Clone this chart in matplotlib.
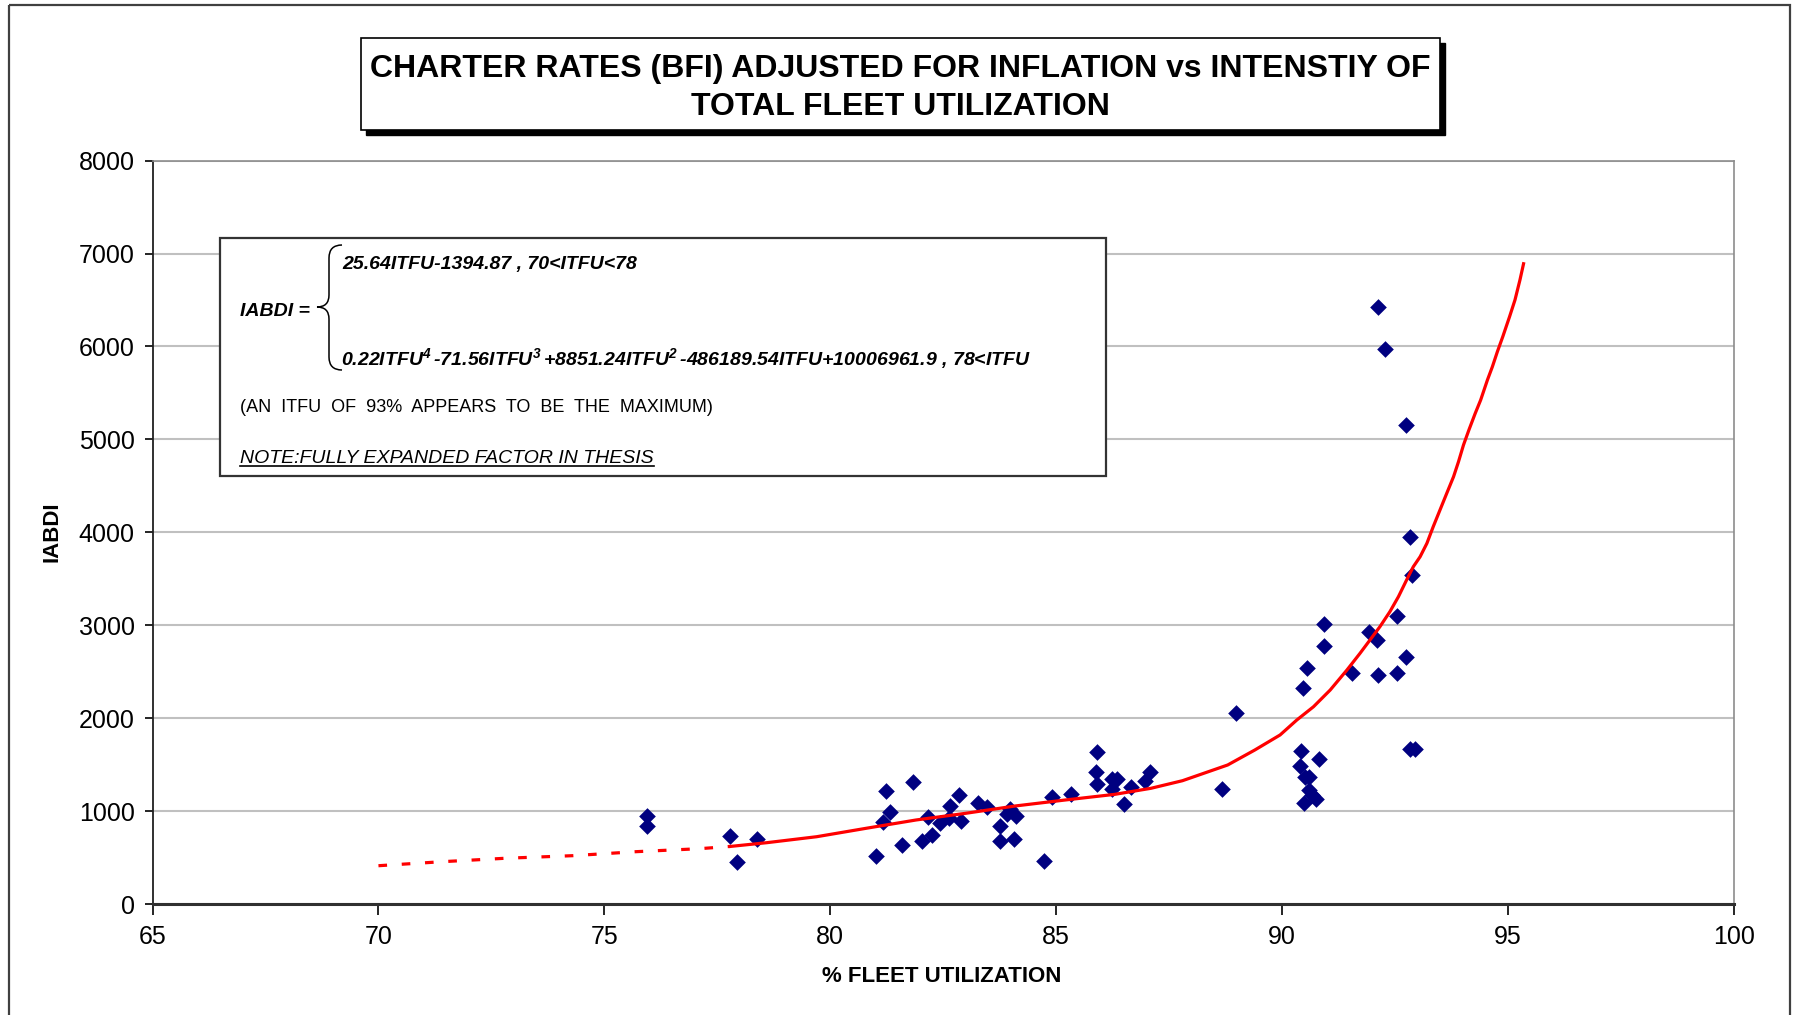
import matplotlib
matplotlib.use("Agg")
import matplotlib.pyplot as plt
from matplotlib.patches import Rectangle, PathPatch
from matplotlib.path import Path

plt.rcParams['font.family'] = ['Liberation Sans', 'DejaVu Sans']
plt.rcParams['mathtext.fontset'] = 'custom'
plt.rcParams['mathtext.it'] = 'Liberation Sans:italic:bold'
plt.rcParams['mathtext.rm'] = 'Liberation Sans:italic:bold'
plt.rcParams['mathtext.bf'] = 'Liberation Sans:italic:bold'

# observed points (% fleet utilization vs inflation adjusted BDI)
itfu = [75.95, 75.95, 77.79, 77.94, 78.37,
        81.01, 81.24, 81.32, 81.16, 81.83, 81.60, 82.03, 82.16, 82.26, 82.43, 82.65, 82.86, 82.90, 82.64,
        83.27, 83.47, 83.76, 83.76, 83.98, 84.11, 84.06, 83.92,
        84.74, 84.90, 85.33,
        85.91, 85.89, 85.91, 86.23, 86.36, 86.23, 86.51, 86.66, 86.97, 87.07,
        88.67, 88.98,
        90.42, 90.39, 90.83, 90.51, 90.59, 90.59, 90.66, 90.49, 90.76,
        90.47, 90.55, 90.94, 90.94, 91.55, 91.93, 92.10, 92.12, 92.54, 92.54, 92.75,
        92.84, 92.95, 92.88, 92.84, 92.74, 92.28, 92.12]
iabdi = [947, 839, 732, 455, 699,
         513, 1219, 987, 879, 1309, 638, 678, 933, 746, 875, 1058, 1170, 890, 922,
         1083, 1047, 839, 678, 1022, 947, 696, 968,
         463, 1155, 1184,
         1632, 1417, 1288, 1342, 1349, 1237, 1076, 1262, 1324, 1424,
         1237, 2052,
         1646, 1488, 1560, 1363, 1363, 1227, 1173, 1090, 1126,
         2321, 2536, 3010, 2776, 2482, 2924, 2841, 2464, 3099, 2482, 2661,
         1668, 1668, 3545, 3945, 5160, 5975, 6420]

# fitted curve
linear_x = [70.0, 71.4, 72.8, 74.3, 75.7, 77.1, 77.8]
linear_y = [412, 455, 492, 520, 563, 595, 620]
poly_x = [77.8, 78.6, 79.7, 80.8, 81.9, 83.0, 84.1, 85.2, 86.3, 87.1, 87.8, 88.8, 89.4,
          89.96, 90.33, 90.70, 91.07, 91.44, 91.73, 91.95, 92.17, 92.39, 92.58, 92.76,
          92.91, 93.06, 93.21, 93.35, 93.50, 93.65, 93.80, 93.91, 94.02, 94.14, 94.28,
          94.40, 94.55, 94.66, 94.77, 94.89, 95.04, 95.16, 95.27, 95.35]
poly_y = [620, 660, 724, 815, 904, 976, 1055, 1119, 1180, 1245, 1327, 1496, 1657,
          1819, 1980, 2123, 2303, 2518, 2698, 2841, 2984, 3145, 3307, 3486,
          3630, 3737, 3881, 4060, 4240, 4420, 4598, 4760, 4939, 5101, 5280,
          5423, 5639, 5782, 5943, 6105, 6320, 6500, 6715, 6890]

x_ticks = [65, 70, 75, 80, 85, 90, 95, 100]
y_ticks = [0, 1000, 2000, 3000, 4000, 5000, 6000, 7000, 8000]

title_lines = ["CHARTER RATES (BFI) ADJUSTED FOR INFLATION vs INTENSTIY OF",
               "TOTAL FLEET UTILIZATION"]
eq_lhs = "IABDI ="
eq_low = "25.64ITFU-1394.87 , 70<ITFU<78"
eq_high = (r"0.22ITFU$^{4}\,$-71.56ITFU$^{3}\,$+8851.24ITFU$^{2}\,$"
           "-486189.54ITFU+10006961.9 , 78<ITFU")
eq_note = "(AN  ITFU  OF  93%  APPEARS  TO  BE  THE  MAXIMUM)"
eq_thesis = "NOTE:FULLY EXPANDED FACTOR IN THESIS"

W, H = 1799, 1015
fig = plt.figure(figsize=(W / 100, H / 100), dpi=100)
ax = fig.add_axes([152.6 / W, 1 - 904 / H, 1581 / W, 743.4 / H])

ax.scatter(itfu, iabdi, marker='D', s=72, color='#000080', linewidths=0, zorder=3)
ax.plot(poly_x, poly_y, color='red', lw=2.3, zorder=4)
ax.plot(linear_x, linear_y, color='red', lw=2.3, dashes=(2.7, 4.6), zorder=4)

ax.set_xlim(65, 100)
ax.set_ylim(0, 8000)
ax.set_xticks(x_ticks)
ax.set_yticks(y_ticks)
ax.tick_params(axis='x', labelsize=18, length=8, width=1.2, pad=7, direction='out')
ax.tick_params(axis='y', labelsize=18, length=6, width=1.2, pad=7, direction='out')
ax.yaxis.grid(True, color='#c0c0c0', lw=1.5)
ax.set_axisbelow(True)
for side in ['top', 'right']:
    ax.spines[side].set_color('#8c8c8c')
    ax.spines[side].set_linewidth(1.2)
ax.spines['left'].set_color('#202020')
ax.spines['left'].set_linewidth(1.3)
ax.spines['bottom'].set_color('#303030')
ax.spines['bottom'].set_linewidth(2.2)

# overlay in pixel coordinates for boxes and annotations
ov = fig.add_axes([0, 0, 1, 1])
ov.set_xlim(0, W)
ov.set_ylim(H, 0)
ov.axis('off')
ov.patch.set_alpha(0)

ov.add_patch(Rectangle((9, 5), 1781, 1020, fill=False, ec='#404040', lw=1.6))

# title box with shadow
ov.add_patch(Rectangle((366, 43), 1079, 92, fc='black', ec='black'))
ov.add_patch(Rectangle((361, 38), 1079, 92, fc='white', ec='black', lw=1.2))
ov.text(900, 69, title_lines[0], ha='center', va='center', fontsize=23, weight='bold')
ov.text(900, 107, title_lines[1], ha='center', va='center', fontsize=23, weight='bold')

ov.text(942, 976, '% FLEET UTILIZATION', ha='center', va='center', fontsize=16, weight='bold')
ov.text(52, 532, 'IABDI', ha='center', va='center', rotation=90, fontsize=16, weight='bold')

# equation box
ov.add_patch(Rectangle((220, 237.5), 886, 238.5, fc='white', ec='#333333', lw=1.6))
ov.text(240, 311, eq_lhs, ha='left', va='center', fontsize=14, weight='bold', style='italic')
ov.text(342, 264, eq_low, ha='left', va='center', fontsize=14, weight='bold', style='italic')
ov.text(341, 359, eq_high, ha='left', va='center', fontsize=14, weight='bold', style='italic')
ov.text(240, 408, eq_note, ha='left', va='center', fontsize=13)
note = ov.text(240, 463, eq_thesis, ha='left', va='baseline', fontsize=14, style='italic')

brace = Path([(342, 245), (329, 245), (329, 258), (329, 295), (329, 307), (317, 307),
              (329, 307), (329, 319), (329, 357), (329, 370), (342, 370)],
             [Path.MOVETO, Path.CURVE3, Path.CURVE3, Path.LINETO, Path.CURVE3, Path.CURVE3,
              Path.CURVE3, Path.CURVE3, Path.LINETO, Path.CURVE3, Path.CURVE3])
ov.add_patch(PathPatch(brace, fill=False, ec='black', lw=1.1))

# underline the thesis note
bb = note.get_window_extent(fig.canvas.get_renderer())
ov.plot([bb.x0, bb.x1], [466, 466], color='black', lw=1.2)

fig.savefig('out.png', dpi=100, facecolor='white')
